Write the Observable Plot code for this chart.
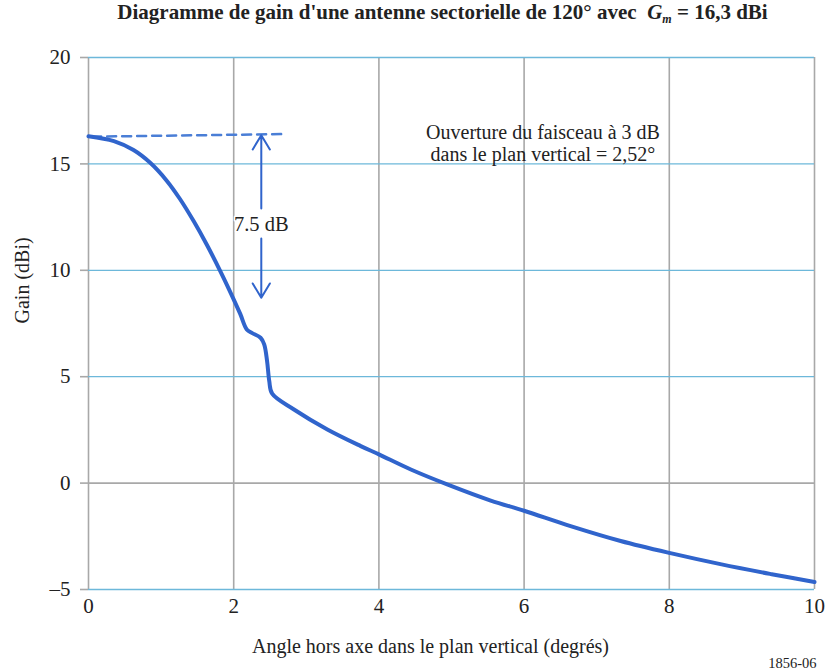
<!DOCTYPE html>
<html>
<head>
<meta charset="utf-8">
<script src="https://cdn.jsdelivr.net/npm/d3@7"></script>
<script src="https://cdn.jsdelivr.net/npm/@observablehq/plot@0.6"></script>
<style>
  body { margin: 0; background: #fff; }
  #title { height: 36px; line-height: 36px; width: 825px; box-sizing: border-box; padding-left: 60px; text-align: center;
    font: bold 21px "Liberation Serif", "Times New Roman", serif; color: #222; white-space: nowrap; }
  #title sub { font-size: 12px; vertical-align: -4px; line-height: 0; }
</style>
</head>
<body>
<div id="title">Diagramme de gain d'une antenne sectorielle de 120° avec&nbsp; <i>G<sub>m</sub></i>&nbsp;= 16,3 dBi</div>
<div id="chart"></div>
<script>
// Gain curve
const angle = [0, 0.35, 0.62, 0.85, 1.08, 1.26, 1.45, 1.63, 1.81, 1.95, 2.09, 2.18, 2.25, 2.37, 2.42, 2.46, 2.49, 2.53, 2.83, 3.29, 3.75, 4.0, 4.44, 4.94, 5.54, 6.0, 6.64, 7.33, 8.0, 8.72, 9.41, 10];
const gain  = [16.3, 16.07, 15.65, 15.05, 14.2, 13.35, 12.3, 11.2, 10.0, 9.0, 7.95, 7.22, 7.06, 6.83, 6.52, 5.73, 4.79, 4.2, 3.46, 2.52, 1.74, 1.35, 0.64, -0.06, -0.82, -1.30, -2.02, -2.72, -3.28, -3.82, -4.28, -4.65];

// Dashed reference line (maximum gain level)
const dashX = [0.05, 2.67];
const dashY = [16.28, 16.4];

// 7.5 dB arrows
const arrowX = 2.38;
const arrowUp = [12.9, 16.35];
const arrowDown = [11.5, 8.71];
const arrowLabel = "7.5 dB";
const arrowLabelY = 12.17;

// Annotation
const noteText = "Ouverture du faisceau à 3 dB\ndans le plan vertical = 2,52°";
const noteX = 6.26;
const noteY = 15.98;

// Axes
const xTicks = [0, 2, 4, 6, 8, 10];
const yTicks = [-5, 0, 5, 10, 15, 20];
const blueGrid = [-5, 5, 10, 15, 20];
const grayGrid = [0];

const curve = angle.map((a, i) => ({a, g: gain[i]}));
const dash = dashX.map((x, i) => ({x, y: dashY[i]}));

const font = '"Liberation Serif", "Times New Roman", serif';
const blue = "#3064cc";

const plot = Plot.plot({
  width: 825,
  height: 635,
  marginLeft: 88,
  marginRight: 11,
  marginTop: 21,
  marginBottom: 82,
  style: {fontFamily: font, fontSize: "20px", color: "#222", background: "#fff"},
  x: {domain: [0, 10]},
  y: {domain: [-5, 20]},
  marks: [
    Plot.ruleX(xTicks, {stroke: "#a8a8a8", strokeWidth: 1.6}),
    Plot.ruleY(grayGrid, {stroke: "#a8a8a8", strokeWidth: 1.6}),
    Plot.ruleY(blueGrid, {stroke: "#6db8da", strokeWidth: 1.3}),
    Plot.axisY(yTicks, {tickSize: 8, tickPadding: 10, stroke: "#a8a8a8", strokeWidth: 1.6, fontSize: 21,
      tickFormat: d => d < 0 ? "\u2013" + Math.abs(d) : String(d), label: null}),
    Plot.axisX(xTicks, {tickSize: 0, tickPadding: 9, fontSize: 21, label: null}),
    Plot.line(dash, {x: "x", y: "y", stroke: "#4a7ed6", strokeWidth: 2.5, strokeDasharray: "9,6"}),
    Plot.arrow([{x1: arrowX, y1: arrowUp[0], x2: arrowX, y2: arrowUp[1]}, {x1: arrowX, y1: arrowDown[0], x2: arrowX, y2: arrowDown[1]}],
      {x1: "x1", y1: "y1", x2: "x2", y2: "y2", stroke: blue, strokeWidth: 2, headLength: 12.5, headAngle: 62}),
    Plot.text([arrowLabel], {x: arrowX, y: arrowLabelY, text: d => d, fontSize: 20.5, fill: "#222", stroke: "white", strokeWidth: 3}),
    Plot.text([noteText], {x: noteX, y: noteY, text: d => d, fontSize: 20, lineHeight: 1.1, fill: "#222"}),
    Plot.line(curve, {x: "a", y: "g", stroke: blue, strokeWidth: 4, curve: "catmull-rom", strokeLinejoin: "round"}),
    Plot.text(["Gain (dBi)"], {frameAnchor: "left", dx: -66, rotate: -90, text: d => d, fontSize: 20, fill: "#222"}),
    Plot.text(["Angle hors axe dans le plan vertical (degrés)"], {frameAnchor: "bottom", dx: -21, dy: 63, text: d => d, fontSize: 20, fill: "#222"}),
    Plot.text(["1856-06"], {frameAnchor: "bottom-right", textAnchor: "end", dx: 2, dy: 78, text: d => d, fontSize: 14.5, fill: "#222"})
  ]
});
document.getElementById("chart").appendChild(plot);
</script>
</body>
</html>
